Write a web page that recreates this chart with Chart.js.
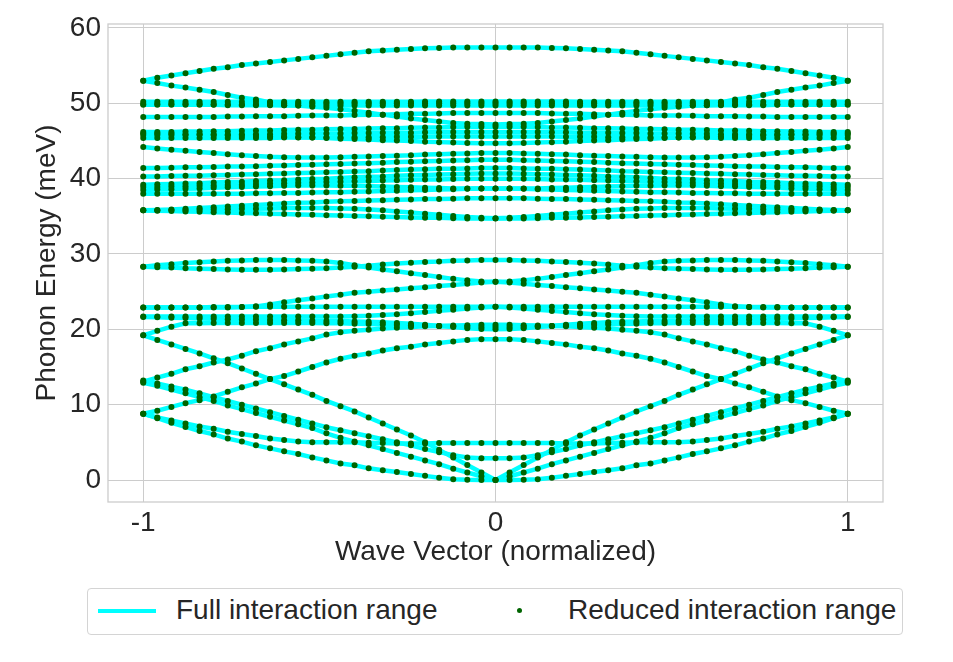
<!DOCTYPE html>
<html>
<head>
<meta charset="utf-8">
<script src="https://cdn.jsdelivr.net/npm/chart.js@4.4.1/dist/chart.umd.min.js"></script>
<style>
  html, body { margin: 0; padding: 0; background: #ffffff; }
  #wrap { position: relative; width: 953px; height: 662px; overflow: hidden; }
  #chartBox { position: absolute; left: 0; top: 0; width: 953px; height: 580px; }
  #legend { position: absolute; left: 87px; top: 588px; width: 814px; height: 45px;
            border: 1px solid #d4d4d4; border-radius: 4px; background: #fff;
            font-family: "Liberation Sans", Arial, sans-serif; font-size: 28px; color: #262626; }
  #legend .sw-line { position: absolute; left: 10px; top: 20px; width: 58px; height: 4px; background: #00ffff; }
  #legend .sw-dot { position: absolute; left: 429px; top: 19px; width: 5px; height: 5px; border-radius: 50%; background: #006400; }
  #legend .txt { position: absolute; top: 5px; white-space: nowrap; line-height: 32px; }
</style>
</head>
<body>
<div id="wrap">
  <div id="chartBox"><canvas id="c"></canvas></div>
  <div id="legend">
    <span class="sw-line"></span><span class="txt" style="left:88px">Full interaction range</span>
    <span class="sw-dot"></span><span class="txt" style="left:480px">Reduced interaction range</span>
  </div>
</div>
<script>
// ---- Data. The dispersion is symmetric about k = 0,
// so each branch is listed for k = 0 ... 1 and reflected for negative k.
const kHalf = [0,0.04,0.08,0.12,0.16,0.2,0.24,0.28,0.32,0.36,0.4,0.44,0.48,0.52,0.56,0.6,0.64,0.68,0.72,0.76,0.8,0.84,0.88,0.92,0.96,1];

const xTickValues = [-1, 0, 1];
const xTickLabels = ["-1", "0", "1"];
const yTickValues = [0, 10, 20, 30, 40, 50, 60];
const yTickLabels = ["0", "10", "20", "30", "40", "50", "60"];

// lower (acoustic / low optical) branches, meV
const branchTA1 = [0,0,0.02,0.1,0.3,0.55,0.8,1.05,1.3,1.55,1.95,2.2,2.6,3.0,3.45,3.8,4.2,4.6,5.1,5.5,6.05,6.5,7.05,7.6,8.2,8.8];
const branchLA  = [0,1.0,2.0,3.0,4.0,5.0,5.9,6.7,7.5,8.3,9.1,9.8,10.5,11.3,12.0,12.7,13.4,14.1,14.8,15.5,16.15,16.8,17.4,18.0,18.6,19.2];
const branchTA2 = [0,0.5,1.0,1.5,2.1,2.6,3.1,3.6,4.1,4.6,5.1,5.6,6.2,6.9,7.4,7.9,8.4,8.9,9.4,9.9,10.5,11.0,11.5,12.0,12.5,12.9];
const branchO3  = [2.9,2.9,3.0,3.3,3.7,4.1,4.6,5.0,5.4,5.8,6.2,6.6,7.0,7.5,8.0,8.5,9.0,9.5,10.0,10.5,11.0,11.5,12.0,12.4,12.8,13.2];
const branchO5  = [4.9,4.9,4.9,4.9,4.9,4.85,4.85,4.85,4.9,4.95,5.0,5.0,5.0,5.0,5.1,5.3,5.5,5.85,6.1,6.4,6.8,7.1,7.5,7.9,8.3,8.8];
const branchO19 = [18.7,18.7,18.6,18.4,18.2,18.0,17.7,17.5,17.2,16.8,16.5,16.1,15.6,15.0,14.4,13.8,13.4,12.8,12.3,11.7,11.1,10.6,10.2,9.7,9.2,8.8];
const branchO20 = [20.6,20.6,20.55,20.5,20.45,20.4,20.3,20.2,20.1,19.95,19.8,19.6,19.3,18.8,18.4,18.0,17.5,17.1,16.5,16.0,15.6,15.1,14.7,14.1,13.6,13.05];
const branchD   = [20.3,20.3,20.35,20.4,20.45,20.5,20.55,20.6,20.65,20.7,20.75,20.8,20.8,20.85,20.85,20.85,20.85,20.85,20.85,20.85,20.85,20.8,20.8,20.35,19.8,19.2];
const branchE   = [20.0,20.05,20.15,20.3,20.45,20.6,20.75,20.85,20.95,21.0,21.05,21.1,21.1,21.15,21.2,21.2,21.25,21.3,21.3,21.35,21.4,21.45,21.5,21.55,21.6,21.65];
const branchF1  = [23.0,23.0,23.0,23.0,23.0,23.0,23.0,23.0,23.0,23.0,23.0,23.0,23.0,23.0,23.0,23.0,23.0,23.0,22.95,22.95,22.95,22.9,22.9,22.9,22.9,22.9];
const branchF2  = [23.0,22.9,22.75,22.6,22.45,22.3,22.15,22.0,21.9,21.8,21.75,21.7,21.7,21.7,21.7,21.7,21.7,21.7,21.7,21.7,21.7,21.7,21.7,21.7,21.7,21.7];
const branchP1  = [29.2,29.2,29.15,29.1,29.0,28.95,28.85,28.75,28.6,28.45,28.3,28.2,28.1,28.05,28.0,27.95,27.9,27.9,27.9,27.95,28.0,28.05,28.1,28.2,28.25,28.3];
const branchP2  = [26.3,26.35,26.5,26.7,26.95,27.2,27.45,27.7,27.95,28.2,28.5,28.8,29.0,29.1,29.15,29.2,29.2,29.2,29.15,29.1,29.0,28.9,28.8,28.65,28.5,28.3];
const branchP3  = [26.3,26.2,26.05,25.9,25.75,25.6,25.45,25.3,25.15,25.0,24.85,24.6,24.35,24.1,23.85,23.6,23.3,23.05,22.95,22.9,22.9,22.9,22.9,22.9,22.9,22.9];

// upper (high optical) branches, meV
const branchU1  = [57.4,57.4,57.4,57.4,57.35,57.3,57.2,57.1,57.0,56.9,56.7,56.5,56.3,56.1,55.9,55.7,55.5,55.3,55.1,54.8,54.6,54.3,54.0,53.7,53.4,53.0];
const branchU2  = [50.0,50.0,50.0,50.0,50.0,50.0,50.0,50.0,50.0,50.0,50.0,50.0,50.0,50.0,50.0,50.0,50.1,50.5,50.75,51.1,51.5,51.8,52.1,52.35,52.7,53.0];
const branchU3  = [50.25,50.25,50.25,50.25,50.25,50.25,50.2,50.2,50.2,50.2,50.2,50.2,50.2,50.2,50.2,50.2,50.2,50.2,50.2,50.2,50.2,50.2,50.2,50.2,50.2,50.2];
const branchU4  = [49.7,49.7,49.7,49.7,49.7,49.7,49.7,49.7,49.7,49.7,49.7,49.7,49.7,49.7,49.7,49.75,49.75,49.75,49.75,49.75,49.8,49.8,49.8,49.8,49.8,49.8];
const branchU5  = [48.7,48.7,48.7,48.7,48.65,48.6,48.6,48.55,48.5,48.5,48.45,48.4,48.4,48.4,48.35,48.3,48.3,48.3,48.25,48.25,48.2,48.2,48.2,48.2,48.2,48.2];
const branchU6  = [47.2,47.25,47.3,47.4,47.6,47.8,48.0,48.25,48.5,48.75,49.0,49.2,49.4,49.55,49.7,49.75,49.8,49.85,49.85,49.85,49.85,49.9,49.9,49.9,49.9,49.9];
const branchU7  = [46.9,46.9,46.9,46.85,46.8,46.8,46.75,46.7,46.7,46.65,46.6,46.6,46.55,46.5,46.5,46.45,46.4,46.4,46.35,46.3,46.3,46.25,46.25,46.2,46.2,46.2];
const branchU8  = [46.2,46.2,46.2,46.2,46.15,46.15,46.1,46.1,46.1,46.05,46.05,46.0,46.0,46.0,45.95,45.95,45.9,45.9,45.9,45.85,45.85,45.85,45.8,45.8,45.8,45.8];
const branchU9  = [45.6,45.6,45.6,45.6,45.6,45.55,45.55,45.55,45.5,45.5,45.5,45.5,45.45,45.45,45.45,45.45,45.4,45.4,45.4,45.4,45.4,45.4,45.4,45.4,45.4,45.4];
const branchU10 = [44.7,44.7,44.75,44.8,44.85,44.9,45.0,45.05,45.1,45.2,45.25,45.3,45.4,45.45,45.5,45.55,45.6,45.65,45.7,45.75,45.8,45.85,45.9,45.95,46.0,46.0];
const branchU11 = [43.4,43.4,43.35,43.3,43.25,43.2,43.1,43.05,43.0,42.95,42.9,42.85,42.8,42.8,42.8,42.85,42.9,43.0,43.1,43.25,43.4,43.55,43.7,43.85,44.0,44.2];
const branchU12 = [42.5,42.5,42.45,42.4,42.35,42.3,42.25,42.2,42.1,42.05,42.0,41.95,41.9,41.85,41.8,41.75,41.7,41.65,41.6,41.6,41.55,41.5,41.5,41.45,41.4,41.4];
const branchU13 = [41.4,41.4,41.35,41.3,41.3,41.25,41.2,41.15,41.1,41.0,40.95,40.9,40.85,40.8,40.75,40.7,40.65,40.6,40.55,40.5,40.45,40.4,40.4,40.35,40.3,40.3];
const branchU14 = [40.7,40.7,40.65,40.6,40.55,40.5,40.45,40.4,40.3,40.25,40.2,40.1,40.0,39.95,39.9,39.8,39.75,39.7,39.6,39.55,39.5,39.4,39.35,39.3,39.25,39.2];
const branchU15 = [40.0,40.0,40.0,39.95,39.9,39.9,39.85,39.8,39.75,39.7,39.65,39.6,39.55,39.5,39.45,39.4,39.35,39.3,39.2,39.15,39.1,39.05,39.0,38.95,38.9,38.9];
const branchU16 = [38.7,38.7,38.7,38.7,38.75,38.8,38.85,38.9,38.95,39.0,39.05,39.05,39.1,39.1,39.1,39.05,39.0,38.95,38.9,38.85,38.8,38.7,38.65,38.6,38.55,38.5];
const branchU17 = [38.7,38.7,38.65,38.6,38.55,38.5,38.45,38.4,38.35,38.3,38.25,38.2,38.2,38.15,38.1,38.1,38.05,38.05,38.0,38.0,38.0,38.0,38.0,38.0,38.0,38.0];
const branchU18 = [37.4,37.4,37.4,37.35,37.3,37.3,37.25,37.2,37.15,37.1,37.05,37.0,36.95,36.85,36.8,36.7,36.6,36.5,36.4,36.3,36.2,36.1,36.0,35.9,35.85,35.8];
const branchU19 = [34.7,34.7,34.7,34.75,34.8,34.8,34.85,34.9,34.95,35.0,35.05,35.1,35.15,35.2,35.25,35.3,35.35,35.4,35.45,35.5,35.55,35.6,35.65,35.7,35.75,35.8];
const branchU20 = [34.75,34.8,34.9,35.05,35.2,35.35,35.5,35.65,35.8,35.9,36.0,36.05,36.1,36.1,36.1,36.1,36.05,36.0,36.0,35.95,35.9,35.9,35.85,35.85,35.8,35.8];

const branchList = [
  branchTA1, branchLA, branchTA2, branchO3, branchO5, branchO19, branchO20, branchD, branchE,
  branchF1, branchF2, branchP1, branchP2, branchP3,
  branchU1, branchU2, branchU3, branchU4, branchU5, branchU6, branchU7, branchU8, branchU9, branchU10,
  branchU11, branchU12, branchU13, branchU14, branchU15, branchU16, branchU17, branchU18, branchU19, branchU20
];

// ---- Build the full k = -1 ... 1 path by reflection
const kAll = kHalf.slice(1).reverse().map(k => -k).concat(kHalf);
const mirror = half => half.slice(1).reverse().concat(half);

const FONT = '"Liberation Sans", Arial, sans-serif';
const TXT = '#262626';
const FS = 28;

const lineSets = branchList.map(b => {
  const v = mirror(b);
  return {
    label: 'Full interaction range',
    data: kAll.map((k, i) => ({ x: k, y: v[i] })),
    showLine: true, fill: false, tension: 0,
    borderColor: '#00ffff', backgroundColor: '#00ffff',
    borderWidth: 4.5, pointRadius: 0, pointHoverRadius: 0,
    order: 2
  };
});

const dotPoints = [];
branchList.forEach(b => {
  const v = mirror(b);
  kAll.forEach((k, i) => dotPoints.push({ x: k, y: v[i] }));
});
const dotSet = {
  label: 'Reduced interaction range',
  data: dotPoints,
  showLine: false,
  pointRadius: 3, pointHoverRadius: 3,
  pointBackgroundColor: '#006400', pointBorderWidth: 0,
  backgroundColor: '#006400', borderColor: '#006400',
  order: 1
};

const frame = {
  id: 'frame',
  afterDraw(chart) {
    const a = chart.chartArea, ctx = chart.ctx;
    ctx.save();
    ctx.strokeStyle = '#cccccc';
    ctx.lineWidth = 1.3;
    ctx.strokeRect(a.left, a.top, a.right - a.left, a.bottom - a.top);
    ctx.restore();
  }
};

new Chart(document.getElementById('c'), {
  type: 'scatter',
  data: { datasets: [dotSet].concat(lineSets) },
  options: {
    responsive: true, maintainAspectRatio: false, animation: false,
    devicePixelRatio: 1,
    layout: { padding: { left: 0, top: 24, right: 70, bottom: 0 } },
    plugins: { legend: { display: false }, tooltip: { enabled: false } },
    scales: {
      x: {
        type: 'linear', min: -1.1, max: 1.1,
        afterBuildTicks: s => { s.ticks = xTickValues.map(v => ({ value: v })); },
        afterFit: s => { s.height = 78; },
        ticks: {
          padding: 4, color: TXT, font: { family: FONT, size: FS },
          callback: v => xTickLabels[xTickValues.indexOf(v)]
        },
        grid: { color: '#cccccc', lineWidth: 1, drawTicks: false },
        border: { display: false },
        title: { display: true, text: 'Wave Vector (normalized)', color: TXT,
                 font: { family: FONT, size: FS }, padding: { top: 0, bottom: 11 } }
      },
      y: {
        type: 'linear', min: -2.92, max: 60.53,
        afterBuildTicks: s => { s.ticks = yTickValues.map(v => ({ value: v })); },
        afterFit: s => { s.width = 108; },
        ticks: {
          padding: 7, color: TXT, font: { family: FONT, size: FS },
          callback: v => yTickLabels[yTickValues.indexOf(v)]
        },
        grid: { color: '#cccccc', lineWidth: 1, drawTicks: false },
        border: { display: false },
        title: { display: true, text: 'Phonon Energy (meV)', color: TXT,
                 font: { family: FONT, size: FS }, padding: { top: 30, bottom: 0 } }
      }
    }
  },
  plugins: [frame]
});
</script>
</body>
</html>
